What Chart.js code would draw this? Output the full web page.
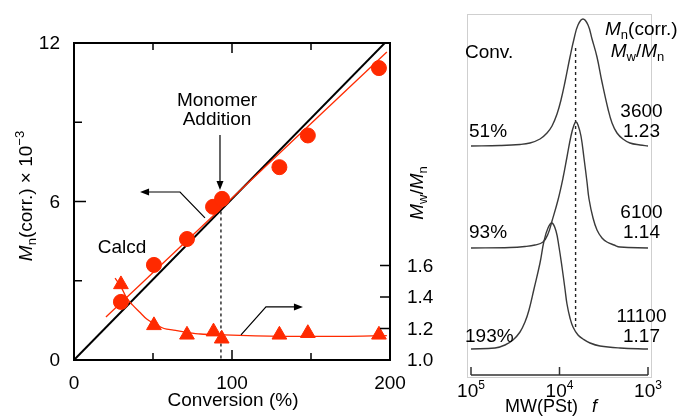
<!DOCTYPE html>
<html><head><meta charset="utf-8">
<script src="https://cdn.jsdelivr.net/npm/chart.js@4"></script>
<style>
html,body{margin:0;padding:0;background:#fff;}
#wrap{position:relative;width:678px;height:417px;overflow:hidden;background:#fff;}
canvas{position:absolute;top:0;}
#c1{left:0;} #c2{left:450px;}
</style></head><body>
<div id="wrap"><canvas id="c1" width="450" height="417"></canvas><canvas id="c2" width="228" height="417"></canvas></div>
<script>
// ---------- Left panel data ----------
const mnConv = [29.7, 50.6, 71.5, 88, 93.7, 130, 148, 193];
const mnVals = [2.2, 3.6, 4.58, 5.8, 6.1, 7.3, 8.5, 11.05];
const pdiConv = [29.7, 50.6, 71.5, 88.3, 93.5, 130, 148, 193];
const pdiVals = [1.48, 1.22, 1.16, 1.18, 1.135, 1.16, 1.17, 1.16];
const calcdConv = [0, 200];
const calcdMn = [0, 12.2];
const fitMnConv = [20.2, 198];
const fitMnVals = [1.63, 11.66];
const fitPdiConv = [26, 30, 33, 37, 42, 46, 51, 57, 63, 72, 80, 95, 110, 140, 170, 198];
const fitPdiVals = [1.52, 1.46, 1.40, 1.35, 1.30, 1.26, 1.23, 1.20, 1.19, 1.175, 1.165, 1.16, 1.155, 1.15, 1.15, 1.155];
const additionConv = [93, 93];
const additionMn = [5.85, 0];
const xTickLabels = ['0', '100', '200'];
const xTickValues = [0, 100, 200];
const xMarks = [50, 100, 150];
const yTickLabels = ['0', '6', '12'];
const yTickValues = [0, 6, 12];
const yMarks = [3, 6, 9];
const y2TickLabels = ['1.0', '1.2', '1.4', '1.6'];
const y2TickValues = [1.0, 1.2, 1.4, 1.6];

// ---------- Right panel (GPC) data ----------
const mw51 = [100000, 47000, 27950, 21540, 16610, 13840, 12150, 10670, 9620, 8670, 7610, 6860, 6180, 5430, 4760, 4290, 3770, 3310, 2830, 2550, 2240, 1920, 1600, 1230, 1000];
const h51  = [0, 0.5, 1.5, 3, 7, 13, 20, 32, 46, 64, 89, 107, 121, 127, 121, 107, 89, 64, 37, 23, 13, 7, 3, 1, 0];
const mw93 = [100000, 36250, 24540, 18910, 15360, 13490, 12150, 10400, 9130, 8230, 7420, 6860, 6510, 6180, 5720, 5290, 4890, 4640, 4180, 3770, 3310, 2910, 2420, 2070, 1000];
const h93  = [0, 0.5, 1.5, 3, 6, 14, 27, 48, 70, 91, 112, 123, 126, 123, 112, 90, 66, 49, 30, 18, 10, 6, 3, 1, 0];
const mw193 = [100000, 53570, 41280, 33540, 27950, 24540, 22110, 19420, 16610, 14970, 13490, 12150, 10950, 10130, 9370, 8670, 8230, 7610, 7040, 6180, 5430, 4520, 3490, 2070, 1000];
const h193  = [0, 1, 4, 9, 17, 27, 39, 60, 86, 108, 121, 126, 118, 102, 82, 60, 45, 31, 22, 14, 10, 6, 3, 1, 0];
const gpcDashMw = [6580, 6580];
const gpcDashY = [48, 327];
const gpcTickValues = [100000, 10000, 1000];
const gpcTickExp = ['5', '4', '3'];
const convLabels = ['51%', '93%', '193%'];
const mnLabels = ['3600', '6100', '11100'];
const pdiLabels = ['1.23', '1.14', '1.17'];

const FONT = '"Liberation Sans", Arial, Helvetica, sans-serif';
const RED = '#ff2a00';

function rich(ctx, segs, x, y, align) {
  let w = 0;
  segs.forEach(s => { ctx.font = (s.it ? 'italic ' : '') + s.size + 'px ' + FONT; s.w = ctx.measureText(s.t).width; w += s.w; });
  let cx = align === 'center' ? x - w / 2 : (align === 'right' ? x - w : x);
  ctx.textAlign = 'left'; ctx.textBaseline = 'alphabetic';
  segs.forEach(s => { ctx.font = (s.it ? 'italic ' : '') + s.size + 'px ' + FONT; ctx.fillText(s.t, cx, y + (s.dy || 0)); cx += s.w; });
}
function arrowHead(ctx, x1, y1, x2, y2) {
  const ang = Math.atan2(y2 - y1, x2 - x1), L = 9, W = 3.5;
  ctx.beginPath();
  ctx.moveTo(x2, y2);
  ctx.lineTo(x2 - L * Math.cos(ang) + W * Math.sin(ang), y2 - L * Math.sin(ang) - W * Math.cos(ang));
  ctx.lineTo(x2 - L * Math.cos(ang) - W * Math.sin(ang), y2 - L * Math.sin(ang) + W * Math.cos(ang));
  ctx.closePath(); ctx.fill();
}
const pts = (xs, ys) => xs.map((v, i) => ({x: v, y: ys[i]}));

const leftDeco = {
  id: 'leftDeco',
  afterDraw(chart) {
    const {ctx, chartArea: a, scales: {x, y, y2}} = chart;
    ctx.save();
    ctx.strokeStyle = '#000'; ctx.fillStyle = '#000';
    ctx.lineWidth = 2;
    ctx.strokeRect(a.left, a.top, a.right - a.left, a.bottom - a.top);
    ctx.lineWidth = 1.5;
    ctx.beginPath();
    yMarks.forEach(v => { const p = y.getPixelForValue(v), L = v === 6 ? 12 : 8; ctx.moveTo(a.left, p); ctx.lineTo(a.left + L, p); });
    xMarks.forEach(v => { const p = x.getPixelForValue(v), L = v === 100 ? 10 : 7;
      ctx.moveTo(p, a.bottom); ctx.lineTo(p, a.bottom - L); ctx.moveTo(p, a.top); ctx.lineTo(p, a.top + L); });
    y2TickValues.slice(1).forEach(v => { const p = y2.getPixelForValue(v); ctx.moveTo(a.right, p); ctx.lineTo(a.right - 10, p); });
    ctx.stroke();
    // tick labels
    ctx.font = '19px ' + FONT;
    ctx.textAlign = 'right'; ctx.textBaseline = 'middle';
    yTickValues.forEach((v, i) => ctx.fillText(yTickLabels[i], a.left - 14, y.getPixelForValue(v) + 1));
    ctx.textAlign = 'left';
    y2TickValues.forEach((v, i) => ctx.fillText(y2TickLabels[i], a.right + 17, y2.getPixelForValue(v) + 1));
    ctx.textAlign = 'center'; ctx.textBaseline = 'alphabetic';
    xTickValues.forEach((v, i) => ctx.fillText(xTickLabels[i], x.getPixelForValue(v), a.bottom + 29));
    ctx.fillText('Conversion (%)', (a.left + a.right) / 2 + 1, a.bottom + 46);
    // axis titles
    ctx.save(); ctx.translate(32, 196); ctx.rotate(-Math.PI / 2);
    rich(ctx, [{t: 'M', size: 19, it: true}, {t: 'n', size: 13, dy: 4}, {t: '(corr.) \u00d7 10', size: 19}, {t: '\u22123', size: 13, dy: -8}], 0, 0, 'center');
    ctx.restore();
    ctx.save(); ctx.translate(423, 193); ctx.rotate(-Math.PI / 2);
    rich(ctx, [{t: 'M', size: 19, it: true}, {t: 'w', size: 13, dy: 4}, {t: '/', size: 19}, {t: 'M', size: 19, it: true}, {t: 'n', size: 13, dy: 4}], 0, 0, 'center');
    ctx.restore();
    // annotations
    ctx.font = '19px ' + FONT; ctx.textAlign = 'center';
    ctx.fillText('Monomer', 217, 106);
    ctx.fillText('Addition', 217, 125);
    ctx.fillText('Calcd', 122, 253);
    ctx.lineWidth = 1.2;
    const P = (cv, val, ax) => [x.getPixelForValue(cv), ax.getPixelForValue(val)];
    // monomer addition arrow
    let s = P(92.4, 8.52, y), t = P(92.4, 6.44, y);
    ctx.beginPath(); ctx.moveTo(s[0], s[1]); ctx.lineTo(t[0], t[1] - 6); ctx.stroke(); arrowHead(ctx, s[0], s[1], t[0], t[1]);
    // left-pointing arrow (Mn axis)
    let e = P(82.9, 5.38, y), c = P(67.1, 6.36, y), tip = P(41.8, 6.36, y);
    ctx.beginPath(); ctx.moveTo(e[0], e[1]); ctx.lineTo(c[0], c[1]); ctx.lineTo(tip[0] + 6, tip[1]); ctx.stroke(); arrowHead(ctx, c[0], c[1], tip[0], tip[1]);
    // right-pointing arrow (Mw/Mn axis)
    e = P(105.7, 1.159, y2); c = P(121.5, 1.337, y2); tip = P(144.9, 1.337, y2);
    ctx.beginPath(); ctx.moveTo(e[0], e[1]); ctx.lineTo(c[0], c[1]); ctx.lineTo(tip[0] - 6, tip[1]); ctx.stroke(); arrowHead(ctx, c[0], c[1], tip[0], tip[1]);
    ctx.restore();
  }
};

new Chart(document.getElementById('c1'), {
  type: 'scatter',
  data: { datasets: [
    { data: pts(mnConv, mnVals), yAxisID: 'y', backgroundColor: RED, borderColor: RED, pointRadius: 7.5, pointStyle: 'circle', order: 0 },
    { data: pts(pdiConv, pdiVals), yAxisID: 'y2', backgroundColor: RED, borderColor: RED, pointRadius: 8.5, pointStyle: 'triangle', order: 0 },
    { data: pts(calcdConv, calcdMn), yAxisID: 'y', showLine: true, borderColor: '#000', borderWidth: 2, pointRadius: 0, order: 2 },
    { data: pts(fitMnConv, fitMnVals), yAxisID: 'y', showLine: true, borderColor: RED, borderWidth: 1.3, pointRadius: 0, order: 1 },
    { data: pts(fitPdiConv, fitPdiVals), yAxisID: 'y2', showLine: true, borderColor: RED, borderWidth: 1.3, pointRadius: 0, cubicInterpolationMode: 'monotone', order: 1 },
    { data: pts(additionConv, additionMn), yAxisID: 'y', showLine: true, borderColor: '#222', borderWidth: 1.4, borderDash: [3, 3], pointRadius: 0, order: 3 }
  ]},
  options: {
    responsive: false, animation: false, devicePixelRatio: 1,
    layout: { padding: { left: 74, top: 43, right: 60, bottom: 57 } },
    plugins: { legend: { display: false }, tooltip: { enabled: false } },
    scales: {
      x: { type: 'linear', min: 0, max: 200, display: false },
      y: { type: 'linear', min: 0, max: 12, display: false },
      y2: { type: 'linear', min: 1.0, max: 3.013, display: false }
    }
  },
  plugins: [leftDeco]
});

// ---------- Right panel ----------
const base = [229, 127, 26];
const rightDeco = {
  id: 'rightDeco',
  beforeDatasetsDraw(chart) {
    const {ctx, chartArea: a, scales: {x}} = chart;
    ctx.save();
    ctx.strokeStyle = '#cfcfcf'; ctx.lineWidth = 1;
    const l = x.getPixelForValue(100000) - 4, r = x.getPixelForValue(1000) + 3;
    ctx.strokeRect(l + 0.5, a.top + 0.5, r - l, a.bottom + 2 - a.top);
    ctx.restore();
  },
  afterDraw(chart) {
    const {ctx, chartArea: a, scales: {x}} = chart;
    ctx.save();
    ctx.strokeStyle = '#333'; ctx.fillStyle = '#000'; ctx.lineWidth = 1.5;
    ctx.beginPath();
    ctx.moveTo(x.getPixelForValue(100000), a.bottom); ctx.lineTo(x.getPixelForValue(1000), a.bottom);
    gpcTickValues.forEach(v => { const p = x.getPixelForValue(v); ctx.moveTo(p, a.bottom); ctx.lineTo(p, a.bottom - 8); });
    ctx.stroke();
    gpcTickValues.forEach((v, i) => rich(ctx, [{t: '10', size: 19}, {t: gpcTickExp[i], size: 12, dy: -8}], x.getPixelForValue(v), a.bottom + 22, 'center'));
    rich(ctx, [{t: 'MW(PSt)', size: 18}], 55, 412, 'left');
    rich(ctx, [{t: 'f', size: 18, it: true}], 142, 412, 'left');
    const X = 450;
    rich(ctx, [{t: 'Conv.', size: 19}], 465 - X, 58, 'left');
    rich(ctx, [{t: 'M', size: 19, it: true}, {t: 'n', size: 13, dy: 4}, {t: '(corr.)', size: 19}], 605 - X, 35, 'left');
    rich(ctx, [{t: 'M', size: 19, it: true}, {t: 'w', size: 13, dy: 4}, {t: '/', size: 19}, {t: 'M', size: 19, it: true}, {t: 'n', size: 13, dy: 4}], 637.5 - X, 57, 'center');
    const rows = [[117, 137], [218, 238], [322, 342]];
    rows.forEach((r, i) => {
      rich(ctx, [{t: mnLabels[i], size: 19}], 641.5 - X, r[0], 'center');
      rich(ctx, [{t: pdiLabels[i], size: 19}], 641.5 - X, r[1], 'center');
      rich(ctx, [{t: convLabels[i], size: 19}], (i === 2 ? 465 : 469) - X, r[1], 'left');
    });
    ctx.restore();
  }
};
const trace = (mw, h, b) => ({ data: mw.map((v, i) => ({x: v, y: b + h[i]})), showLine: true, borderColor: '#3a3a3a', borderWidth: 1.4, pointRadius: 0, tension: 0.4 });
new Chart(document.getElementById('c2'), {
  type: 'scatter',
  data: { datasets: [
    trace(mw51, h51, base[0]),
    trace(mw93, h93, base[1]),
    trace(mw193, h193, base[2]),
    { data: pts(gpcDashMw, gpcDashY), showLine: true, borderColor: '#222', borderWidth: 1.4, borderDash: [3, 3], pointRadius: 0 }
  ]},
  options: {
    responsive: false, animation: false, devicePixelRatio: 1,
    layout: { padding: { left: 21, top: 14, right: 30, bottom: 42 } },
    plugins: { legend: { display: false }, tooltip: { enabled: false } },
    scales: {
      x: { type: 'logarithmic', min: 1000, max: 100000, reverse: true, display: false },
      y: { type: 'linear', min: 0, max: 361, display: false }
    }
  },
  plugins: [rightDeco]
});
</script>
</body></html>
